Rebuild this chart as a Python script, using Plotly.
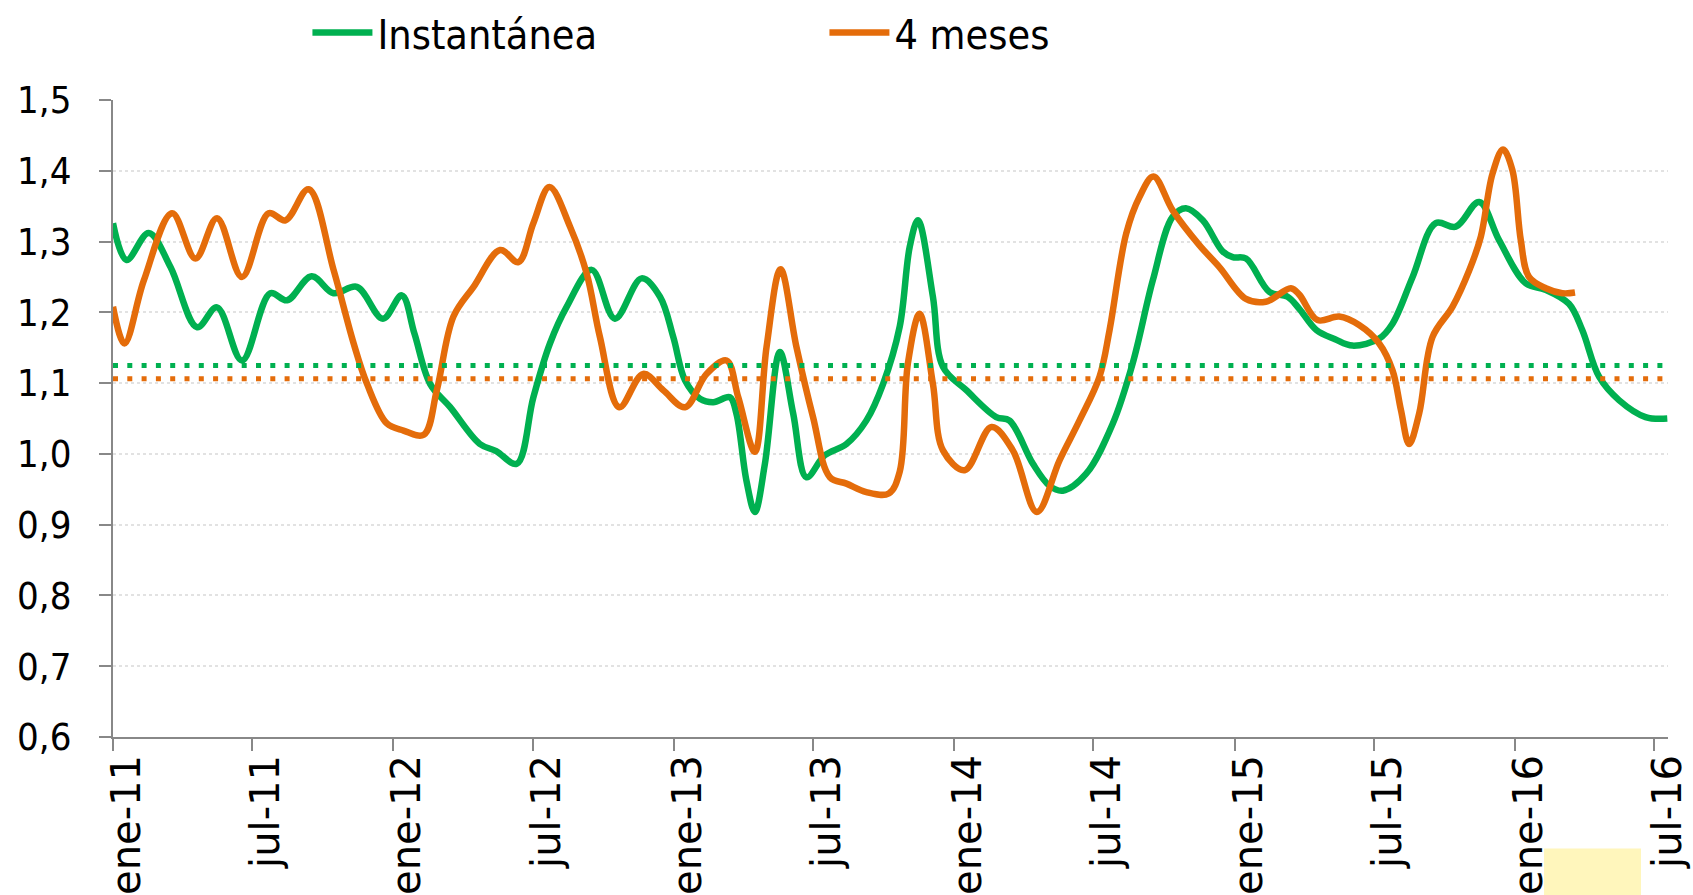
import numpy as np
import pandas as pd
import plotly.graph_objects as go

# ---- data (months elapsed since ene-11, values) ----
green_t = [0.0, 0.58, 1.53, 2.46, 3.6, 4.45, 5.52, 6.73, 7.45, 8.5, 9.44, 10.44, 11.55, 12.36,
           12.9, 13.57, 14.43, 15.7, 16.4, 17.28, 17.99, 18.7, 19.42, 20.49, 21.48, 22.62,
           23.41, 23.98, 24.48, 25.12, 25.69, 26.4, 26.68, 27.11, 27.47, 27.9, 28.54, 29.11,
           29.68, 30.46, 31.39, 32.24, 32.96, 33.67, 34.1, 34.45, 35.09, 35.52, 36.52, 37.8,
           38.37, 39.37, 40.08, 40.65, 41.65, 42.79, 43.64, 44.5, 45.35, 45.92, 46.64, 47.49,
           47.92, 48.49, 49.49, 50.27, 50.77, 51.5, 52.3, 53.05, 54.19, 54.76, 55.62, 56.61,
           57.47, 58.47, 59.32, 60.46, 61.3, 62.31, 62.88, 63.6, 64.45, 65.59, 66.52]
green_v = [1.326, 1.274, 1.312, 1.264, 1.179, 1.207, 1.132, 1.227, 1.217, 1.251, 1.227, 1.236,
           1.191, 1.224, 1.170, 1.099, 1.066, 1.014, 1.004, 0.986, 1.080, 1.156, 1.208, 1.260,
           1.191, 1.248, 1.222, 1.165, 1.104, 1.078, 1.073, 1.080, 1.057, 0.962, 0.918, 0.986,
           1.144, 1.057, 0.967, 0.998, 1.014, 1.047, 1.099, 1.180, 1.293, 1.330, 1.222, 1.123,
           1.090, 1.052, 1.047, 0.986, 0.955, 0.948, 0.972, 1.043, 1.128, 1.245, 1.335, 1.347,
           1.330, 1.286, 1.278, 1.276, 1.229, 1.222, 1.205, 1.175, 1.162, 1.153, 1.163, 1.184,
           1.250, 1.326, 1.321, 1.356, 1.302, 1.241, 1.232, 1.212, 1.175, 1.109, 1.076, 1.052,
           1.050]

orange_t = [0.0, 0.49, 1.32, 2.53, 3.53, 4.45, 5.52, 6.66, 7.38, 8.37, 9.44, 10.3, 10.87, 11.72,
            12.43, 13.3, 13.86, 14.57, 15.43, 16.57, 17.35, 17.99, 18.68, 19.56, 20.27, 20.84,
            21.67, 22.69, 23.55, 24.48, 25.4, 26.26, 26.76, 27.47, 27.97, 28.57, 29.25, 29.96,
            30.68, 31.39, 32.24, 33.2, 33.67, 34.02, 34.52, 35.09, 35.52, 36.45, 37.6, 38.51,
            39.54, 40.51, 41.36, 42.22, 42.65, 43.36, 43.93, 44.53, 45.35, 46.49, 47.35, 48.49,
            49.34, 50.41, 50.77, 51.55, 52.48, 53.33, 54.19, 54.76, 55.12, 55.47, 55.9, 56.47,
            57.33, 58.04, 58.54, 59.04, 59.49, 59.89, 60.25, 60.6, 61.32, 62.03, 62.57]
orange_v = [1.208, 1.156, 1.245, 1.340, 1.276, 1.333, 1.250, 1.340, 1.330, 1.374, 1.260, 1.156,
            1.099, 1.043, 1.033, 1.027, 1.090, 1.194, 1.236, 1.288, 1.271, 1.326, 1.377, 1.321,
            1.255, 1.165, 1.066, 1.113, 1.090, 1.066, 1.113, 1.132, 1.080, 1.003, 1.151, 1.261,
            1.151, 1.052, 0.967, 0.958, 0.946, 0.944, 0.975, 1.128, 1.198, 1.099, 1.005, 0.977,
            1.038, 1.005, 0.918, 0.991, 1.047, 1.109, 1.175, 1.311, 1.363, 1.392, 1.344, 1.295,
            1.264, 1.219, 1.215, 1.234, 1.225, 1.189, 1.194, 1.182, 1.156, 1.118, 1.062, 1.014,
            1.057, 1.165, 1.208, 1.259, 1.307, 1.396, 1.430, 1.401, 1.302, 1.250, 1.234, 1.227,
            1.228]

green_mean = 1.125
orange_mean = 1.106
mean_span_t = [0.0, 66.55]

tick_dates = ["2011-01-01", "2011-07-01", "2012-01-01", "2012-07-01", "2013-01-01",
              "2013-07-01", "2014-01-01", "2014-07-01", "2015-01-01", "2015-07-01",
              "2016-01-01", "2016-07-01"]
tick_text = ["ene-11", "jul-11", "ene-12", "jul-12", "ene-13", "jul-13", "ene-14",
             "jul-14", "ene-15", "jul-15", "ene-16", "jul-16"]

GREEN = "#00B050"
ORANGE = "#E46C0A"
AXIS = "#888888"

base = pd.Timestamp("2011-01-01")


def to_dates(t):
    return base + pd.to_timedelta(np.array(t) * 30.4375, unit="D")


fig = go.Figure()
fig.add_trace(go.Scatter(x=to_dates(green_t), y=green_v, name="Instantánea", mode="lines",
                         line=dict(color=GREEN, width=6.5, shape="spline", smoothing=1.0)))
fig.add_trace(go.Scatter(x=to_dates(orange_t), y=orange_v, name="4 meses", mode="lines",
                         line=dict(color=ORANGE, width=6.5, shape="spline", smoothing=1.0)))
fig.add_trace(go.Scatter(x=to_dates(mean_span_t), y=[green_mean] * 2, mode="lines",
                         showlegend=False, hoverinfo="skip",
                         line=dict(color=GREEN, width=5, dash="5px,9.3px")))
fig.add_trace(go.Scatter(x=to_dates(mean_span_t), y=[orange_mean] * 2, mode="lines",
                         showlegend=False, hoverinfo="skip",
                         line=dict(color=ORANGE, width=5, dash="5px,9.3px")))

end_date = to_dates([66.55])[0]

fig.update_layout(
    width=1693, height=895,
    margin=dict(l=112.5, r=25, t=100, b=158.4, autoexpand=False),
    paper_bgcolor="white", plot_bgcolor="white",
    separators=",.",
    showlegend=True,
    legend=dict(orientation="h", x=(307 - 112.5) / 1555.5, xanchor="left",
                y=1 + (100 - 33) / 636.6, yanchor="middle",
                font=dict(family="DejaVu Sans Condensed", size=41, color="black"),
                itemwidth=60, entrywidth=442, entrywidthmode="pixels",
                bgcolor="rgba(0,0,0,0)", tracegroupgap=0),
    xaxis=dict(type="date", range=[base, end_date],
               tickvals=tick_dates, ticktext=tick_text, tickangle=-90,
               showline=True, linecolor=AXIS, linewidth=2,
               ticks="outside", ticklen=12, tickwidth=2, tickcolor=AXIS,
               showgrid=False, zeroline=False,
               tickfont=dict(family="DejaVu Sans", size=40, color="black"),
               ticklabelshift=14, ticklabelstandoff=-12),
    yaxis=dict(range=[0.6, 1.5], dtick=0.1, tick0=0.6, tickformat=".1f",
               showline=True, linecolor=AXIS, linewidth=2,
               ticks="outside", ticklen=12, tickwidth=2, tickcolor=AXIS,
               showgrid=True, gridcolor="#e2e2e2", gridwidth=1.5, griddash="dot",
               zeroline=False,
               tickfont=dict(family="DejaVu Sans Condensed", size=38, color="black"),
               ticklabelstandoff=20),
    shapes=[dict(type="rect", xref="paper", yref="paper",
                 x0=(1544 - 112.5) / 1555.5, x1=(1641 - 112.5) / 1555.5,
                 y0=(736.6 - 895) / 636.6, y1=(736.6 - 848) / 636.6,
                 fillcolor="#FFF6BC", line=dict(width=0), layer="below")],
)

fig.write_html("out.html", config={"displayModeBar": False},
               post_script="document.body.style.margin='0';document.body.style.overflow='hidden';")
